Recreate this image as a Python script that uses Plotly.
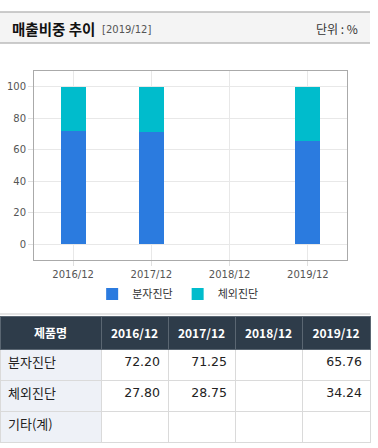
import plotly.graph_objects as go

W, H = 378, 448

categories = ["2016/12", "2017/12", "2018/12", "2019/12"]
series_names = ["분자진단", "체외진단"]
molecular = [72.20, 71.25, None, 65.76]
in_vitro = [27.80, 28.75, None, 34.24]
row_labels = ["분자진단", "체외진단", "기타(계)"]
y_ticks = [0, 20, 40, 60, 80, 100]

colors = ["#2B7BDF", "#00BCCC"]
KR = "Noto Sans CJK KR"


def py(px):
    return 1 - px / H


def px_x(px):
    return px / W


fig = go.Figure()
for name, vals, col in zip(series_names, [molecular, in_vitro], colors):
    fig.add_trace(go.Bar(
        x=categories, y=vals, name=name, marker=dict(color=col, line=dict(width=0)),
        width=0.32, hoverinfo="skip",
    ))


def fmt(v):
    return "" if v is None else f"{v:.2f}"


cols = [row_labels]
for i in range(len(categories)):
    cols.append([fmt(molecular[i]), fmt(in_vitro[i]), ""])

fig.add_trace(go.Table(
    domain=dict(x=[0, px_x(370)], y=[py(446), py(316)]),
    columnwidth=[101, 67, 67, 67, 68],
    header=dict(
        values=["<b>제품명</b>"] + [f"<b>{c}</b>" for c in categories],
        fill_color="#2E3C4A", line=dict(color="#5a6672", width=1),
        font=dict(color="white", size=12, family=KR), align="center", height=29,
    ),
    cells=dict(
        values=cols,
        fill_color=[["#EEF1F7"] * 3] + [["white"] * 3] * 4,
        line=dict(color="#DADADA", width=1),
        font=dict(color="#222", size=[13, 12.5, 12.5, 12.5, 12.5],
                  family=[KR, "DejaVu Sans", "DejaVu Sans", "DejaVu Sans", "DejaVu Sans"]),
        align=["left", "right", "right", "right", "right"], height=31,
    ),
))

fig.update_layout(
    width=W, height=H, margin=dict(l=0, r=0, t=0, b=0),
    paper_bgcolor="white", plot_bgcolor="white",
    barmode="stack", bargap=0.68,
    showlegend=True,
    legend=dict(orientation="h", x=0.47, xanchor="center", y=py(294), yanchor="middle",
                font=dict(size=11, family=KR, color="#333"), itemwidth=30,
                traceorder="normal"),
    xaxis=dict(domain=[px_x(34), px_x(347)], range=[-0.5, 3.5], type="category",
               showgrid=True, gridcolor="#E8E8E8", ticks="outside", ticklen=5,
               tickcolor="#E0E0E0", showline=True, linecolor="#AAAAAA", mirror=True,
               tickfont=dict(size=10, color="#555", family="DejaVu Sans"), fixedrange=True),
    yaxis=dict(domain=[py(260), py(71)], range=[-10, 110], tickvals=y_ticks,
               showgrid=True, gridcolor="#E8E8E8", ticks="outside", ticklen=5,
               tickcolor="#E0E0E0", showline=True, linecolor="#AAAAAA", mirror=True,
               zeroline=False, tickfont=dict(size=10, color="#555", family="DejaVu Sans"),
               fixedrange=True),
    font=dict(family=KR),
)

# header band
fig.add_shape(type="rect", xref="paper", yref="paper", x0=0, x1=px_x(370), y0=py(43), y1=py(12),
              fillcolor="#F4F4F4", line=dict(width=0), layer="below")
for yy in (12, 43):
    fig.add_shape(type="line", xref="paper", yref="paper", x0=0, x1=px_x(370), y0=py(yy), y1=py(yy),
                  line=dict(color="#BBBBBB", width=1.5))
fig.add_shape(type="line", xref="paper", yref="paper", x0=0, x1=px_x(370), y0=py(314), y1=py(314),
              line=dict(color="#DDDDDD", width=1.5))

fig.add_annotation(xref="paper", yref="paper", x=px_x(10), y=py(28), xanchor="left", yanchor="middle",
                   text="<b>매출비중 추이</b>", showarrow=False, font=dict(size=14.5, color="#111", family=KR))
fig.add_annotation(xref="paper", yref="paper", x=px_x(100), y=py(29), xanchor="left", yanchor="middle",
                   text="[2019/12]", showarrow=False, font=dict(size=10, color="#555", family="DejaVu Sans"))
fig.add_annotation(xref="paper", yref="paper", x=px_x(360), y=py(28), xanchor="right", yanchor="middle",
                   text="단위 : %", showarrow=False, font=dict(size=12, color="#333", family=KR))

fig.write_html("out.html", config=dict(displayModeBar=False),
               post_script="document.body.style.margin='0px';document.body.style.overflow='hidden';")
